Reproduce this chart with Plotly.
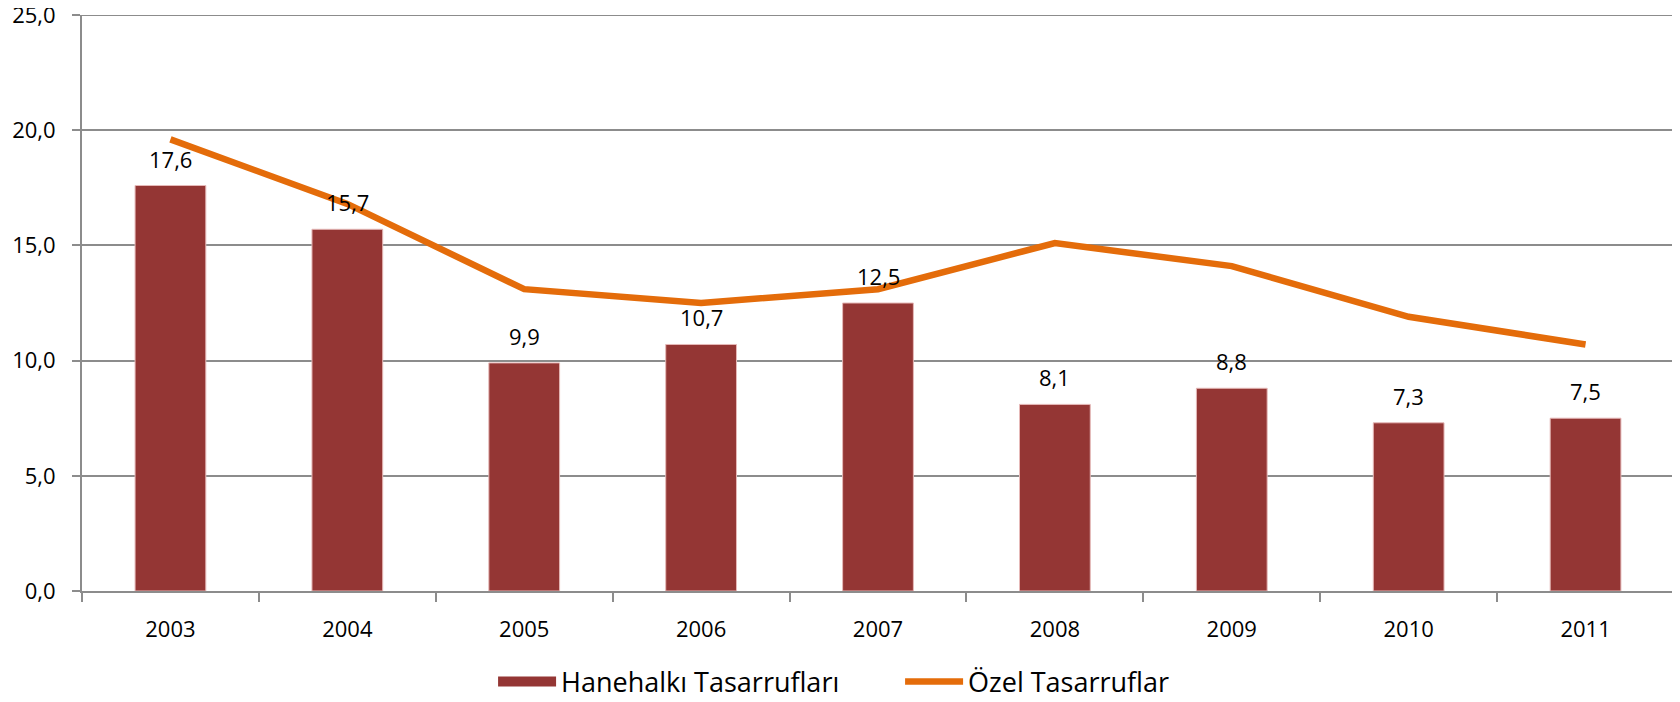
import plotly.graph_objects as go

years = ["2003", "2004", "2005", "2006", "2007", "2008", "2009", "2010", "2011"]
hanehalki = [17.6, 15.7, 9.9, 10.7, 12.5, 8.1, 8.8, 7.3, 7.5]
ozel = [19.6, 16.8, 13.1, 12.5, 13.1, 15.1, 14.1, 11.9, 10.7]
y_ticks = [0, 5, 10, 15, 20, 25]

font = "Open Sans"
grid = "#8c8c8c"
bar_color = "#943634"

fig = go.Figure()
fig.add_trace(go.Bar(
    x=years, y=hanehalki, name="Hanehalkı Tasarrufları", showlegend=False,
    marker=dict(color=bar_color, line=dict(color="#e6b9b8", width=1)),
    width=0.4,
))
# legend proxy so the bar swatch is a wide block like the original
fig.add_trace(go.Scatter(
    x=[None], y=[None], name="Hanehalkı Tasarrufları", mode="lines",
    line=dict(color=bar_color, width=20),
))
fig.add_trace(go.Scatter(
    x=years, y=ozel, name="Özel Tasarruflar", mode="lines",
    line=dict(color="#e46c0a", width=6.5),
))

# data labels above the bars (x given as category index)
for i, v in enumerate(hanehalki):
    fig.add_annotation(x=i, y=v, text=f"{v:.1f}".replace(".", ","),
                       showarrow=False, yanchor="bottom", yshift=10,
                       font=dict(family=font, size=22, color="black"))

# page body has an 8px margin, so margins are trimmed by 8 on top/left
fig.update_layout(
    width=1680, height=702,
    margin=dict(l=74, r=14, t=7, b=119, autoexpand=False),
    plot_bgcolor="white", paper_bgcolor="white",
    separators=",.",
    font=dict(family=font, size=22, color="black"),
    showlegend=True,
    legend=dict(orientation="h", xref="container", x=0.531, xanchor="center",
                yref="container", y=0.04, yanchor="middle",
                font=dict(size=27), itemwidth=58, entrywidth=334),
)
fig.update_xaxes(
    type="category", range=[-0.5, len(years) - 0.5],
    showline=True, linecolor=grid, linewidth=2,
    ticks="outside", tickson="boundaries", ticklen=9, tickcolor=grid, tickwidth=2,
    ticklabelstandoff=18, showgrid=False, tickangle=0,
)
fig.update_yaxes(
    range=[0, 25], tickvals=y_ticks, tickformat=".1f",
    showline=True, linecolor=grid, linewidth=2,
    ticks="outside", ticklen=8, tickcolor=grid, tickwidth=2,
    showgrid=True, gridcolor=grid, gridwidth=2, zeroline=False,
    ticklabelstandoff=12, ticklabeloverflow="allow",
)
# top border line at 25,0 (plotly drops the gridline at the axis end)
fig.add_hline(y=25, line=dict(color=grid, width=2), layer="below")

fig.write_html("out.html")
